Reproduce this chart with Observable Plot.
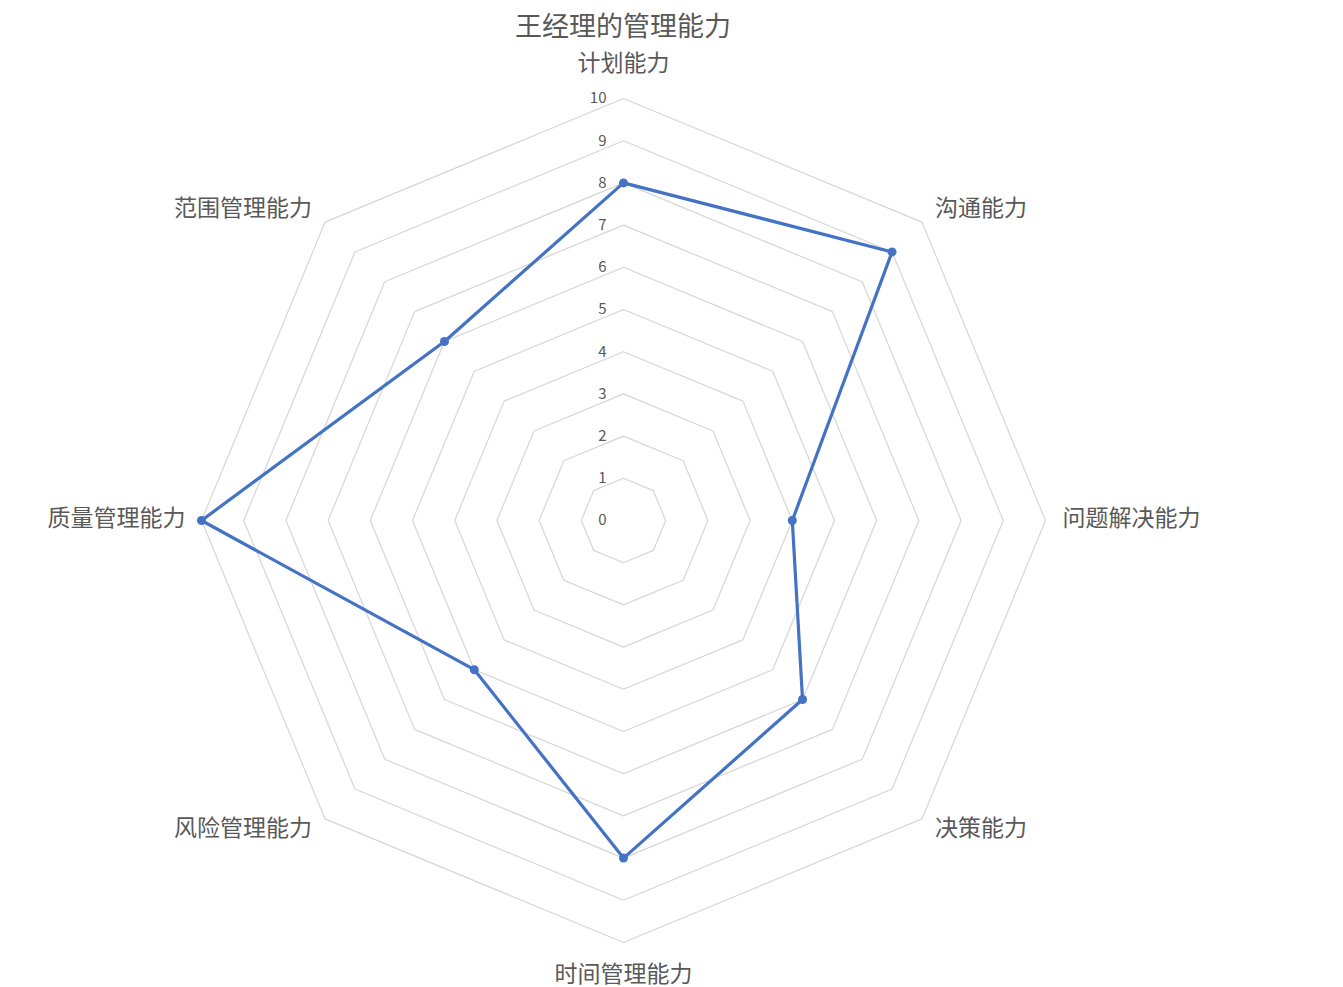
<!DOCTYPE html>
<html>
<head>
<meta charset="utf-8">
<script src="https://cdn.jsdelivr.net/npm/d3@7"></script>
<script src="https://cdn.jsdelivr.net/npm/@observablehq/plot@0.6"></script>
<style>
  html, body { margin: 0; padding: 0; background: #ffffff; }
  #title { width: 1246px; height: 40px; line-height: 50px; text-align: center; overflow: visible;
           font-family: "Noto Sans CJK SC", sans-serif; font-size: 27px; color: #595959; }
  #chart svg { display: block; }
</style>
</head>
<body>
<div id="title">王经理的管理能力</div>
<div id="chart"></div>
<script>
const categories = ["计划能力", "沟通能力", "问题解决能力", "决策能力", "时间管理能力", "风险管理能力", "质量管理能力", "范围管理能力"];
const values = [8, 9, 4, 6, 8, 5, 10, 6];
const tickValues = [0, 1, 2, 3, 4, 5, 6, 7, 8, 9, 10];
const maxValue = 10;

const n = categories.length;
const angle = i => (2 * Math.PI * i) / n;

// Series points (closed)
const series = categories.map((c, i) => ({
  cat: c, v: values[i],
  x: values[i] * Math.sin(angle(i)),
  y: values[i] * Math.cos(angle(i))
}));
const seriesClosed = [...series, series[0]];

// Grid rings
const rings = [];
for (const v of tickValues.filter(t => t > 0)) {
  for (let i = 0; i <= n; i++) {
    rings.push({ v, x: v * Math.sin(angle(i % n)), y: v * Math.cos(angle(i % n)) });
  }
}

// Category label anchors at outer ring
const labels = categories.map((c, i) => {
  const s = Math.sin(angle(i)), co = Math.cos(angle(i));
  return { cat: c, s, co, x: maxValue * s, y: maxValue * co };
});

const font = "Noto Sans CJK SC, sans-serif";
const labelColor = "#595959";
const fs = 23;

const cx = 623, cy = 480, R = 422;

const chart = Plot.plot({
  width: 1343,
  height: 947,
  margin: 0,
  x: { domain: [-maxValue, maxValue], range: [cx - R, cx + R], axis: null },
  y: { domain: [-maxValue, maxValue], range: [cy + R, cy - R], axis: null },
  style: { fontFamily: font, background: "#ffffff", overflow: "visible" },
  marks: [
    Plot.line(rings, { x: "x", y: "y", z: "v", stroke: "#d6d6d6", strokeWidth: 1.2 }),
    Plot.text(tickValues, { x: () => 0, y: d => d, text: d => String(d), textAnchor: "end", dx: -17,
      fontSize: 15, fill: labelColor }),
    Plot.line(seriesClosed, { x: "x", y: "y", stroke: "#4472C4", strokeWidth: 3.2, strokeLinejoin: "round" }),
    Plot.dot(series, { x: "x", y: "y", r: 4.5, fill: "#4472C4", stroke: "none" }),
    // top label
    Plot.text(labels.filter(d => Math.abs(d.s) < 0.1 && d.co > 0), { x: "x", y: "y", text: "cat",
      textAnchor: "middle", dy: -35, fontSize: fs, fill: labelColor }),
    // bottom label
    Plot.text(labels.filter(d => Math.abs(d.s) < 0.1 && d.co < 0), { x: "x", y: "y", text: "cat",
      textAnchor: "middle", dy: 32, fontSize: fs, fill: labelColor }),
    // right horizontal
    Plot.text(labels.filter(d => d.s > 0.9), { x: "x", y: "y", text: "cat",
      textAnchor: "start", dx: 17, dy: -2, fontSize: fs, fill: labelColor }),
    // left horizontal
    Plot.text(labels.filter(d => d.s < -0.9), { x: "x", y: "y", text: "cat",
      textAnchor: "end", dx: -16, dy: -2, fontSize: fs, fill: labelColor }),
    // right diagonals
    Plot.text(labels.filter(d => d.s > 0.1 && d.s < 0.9 && d.co > 0), { x: "x", y: "y", text: "cat",
      textAnchor: "start", dx: 13, dy: -13, fontSize: fs, fill: labelColor }),
    Plot.text(labels.filter(d => d.s > 0.1 && d.s < 0.9 && d.co < 0), { x: "x", y: "y", text: "cat",
      textAnchor: "start", dx: 13, dy: 10, fontSize: fs, fill: labelColor }),
    // left diagonals
    Plot.text(labels.filter(d => d.s < -0.1 && d.s > -0.9 && d.co > 0), { x: "x", y: "y", text: "cat",
      textAnchor: "end", dx: -13, dy: -13, fontSize: fs, fill: labelColor }),
    Plot.text(labels.filter(d => d.s < -0.1 && d.s > -0.9 && d.co < 0), { x: "x", y: "y", text: "cat",
      textAnchor: "end", dx: -13, dy: 10, fontSize: fs, fill: labelColor })
  ]
});
document.getElementById("chart").appendChild(chart);
</script>
</body>
</html>
